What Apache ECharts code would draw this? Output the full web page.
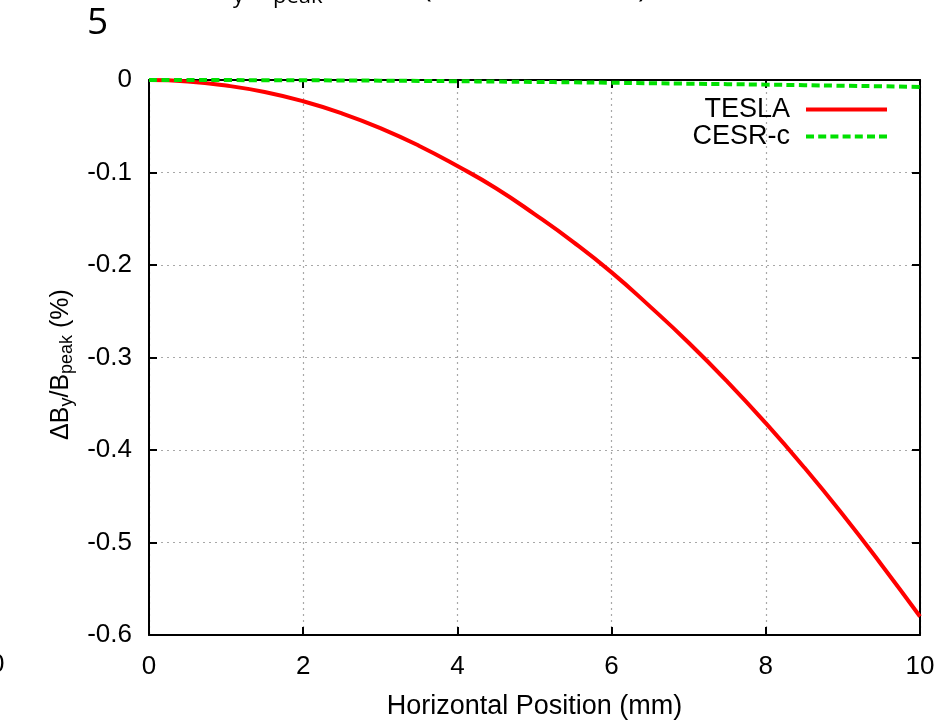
<!DOCTYPE html>
<html>
<head>
<meta charset="utf-8">
<script src="https://cdn.jsdelivr.net/npm/echarts@6/dist/echarts.min.js"></script>
<style>
html,body{margin:0;padding:0;background:#fff;}
#chart{width:948px;height:720px;}
</style>
</head>
<body>
<div id="chart"></div>
<script>
// Horizontal position (mm)
var xPositions = [0, 0.5, 1, 1.5, 2, 2.5, 3, 3.5, 4, 4.5, 5, 5.5, 6, 6.5, 7, 7.5, 8, 8.5, 9, 9.5, 10];
// Delta By / B_peak (%)
var teslaValues = [0, -0.0015, -0.006, -0.013, -0.023, -0.036, -0.052, -0.071, -0.093, -0.117, -0.145, -0.175, -0.208, -0.245, -0.284, -0.326, -0.371, -0.419, -0.470, -0.524, -0.580];
var cesrValues  = [0, 0, -0.0001, -0.0002, -0.0003, -0.0005, -0.0007, -0.001, -0.0013, -0.0017, -0.0021, -0.0025, -0.003, -0.0035, -0.004, -0.0045, -0.005, -0.0056, -0.0062, -0.0068, -0.0075];
var seriesNames = ['TESLA', 'CESR-c'];
var xTicks = [0, 2, 4, 6, 8, 10];
var yTicks = [0, -0.1, -0.2, -0.3, -0.4, -0.5, -0.6];

function pairs(xs, ys) { return xs.map(function (x, i) { return [x, ys[i]]; }); }

var FONT = 'Liberation Sans, Arial, sans-serif';
var chart = echarts.init(document.getElementById('chart'), null, {renderer: 'canvas'});

var tickStyle = {show: true, inside: true, length: 8, lineStyle: {color: '#000', width: 2}};
var lineStyleAxis = {show: true, onZero: false, lineStyle: {color: '#000', width: 2}};

// legend sample shapes: a solid bar and a row of 7 dashes
var solidIcon = 'path://M0,0H81V4H0Z';
var dashIcon = 'path://M0,0H8V4H0Z M12.2,0H20.2V4H12.2Z M24.4,0H32.4V4H24.4Z M36.6,0H44.6V4H36.6Z M48.8,0H56.8V4H48.8Z M61,0H69V4H61Z M73,0H81V4H73Z';

var option = {
  backgroundColor: '#fff',
  animation: false,
  grid: {left: 149, top: 80, right: 28, bottom: 85, containLabel: false, outerBoundsMode: 'none'},
  legend: {
    data: [
      {name: seriesNames[0], icon: solidIcon, itemStyle: {color: '#ff0000'}},
      {name: seriesNames[1], icon: dashIcon, itemStyle: {color: '#00e000'}}
    ],
    orient: 'vertical',
    right: 56,
    top: 91,
    align: 'right',
    itemWidth: 81,
    itemHeight: 4,
    itemGap: 0,
    symbolKeepAspect: false,
    textStyle: {fontFamily: FONT, fontSize: 27, lineHeight: 26, color: '#000', padding: [0, 11, 0, 0]}
  },
  xAxis: [
    {
      type: 'value', min: xTicks[0], max: xTicks[xTicks.length - 1], interval: 2, position: 'bottom',
      name: 'Horizontal Position (mm)', nameLocation: 'middle', nameGap: 58,
      nameTextStyle: {fontFamily: FONT, fontSize: 27, color: '#000'},
      axisLine: lineStyleAxis, axisTick: tickStyle,
      axisLabel: {fontFamily: FONT, fontSize: 26, color: '#000', margin: 19},
      splitLine: {show: true, lineStyle: {color: '#a8a8a8', type: [2, 4], width: 1.2}}
    },
    {
      type: 'value', min: xTicks[0], max: xTicks[xTicks.length - 1], interval: 2, position: 'top',
      axisLine: lineStyleAxis, axisTick: tickStyle, axisLabel: {show: false}, splitLine: {show: false}
    }
  ],
  yAxis: [
    {
      type: 'value', min: yTicks[yTicks.length - 1], max: yTicks[0], interval: 0.1, position: 'left',
      name: '{n|ΔB}{s|y}{n|/B}{s|peak}{n| (%)}', nameLocation: 'middle', nameGap: 68, nameRotate: 90,
      nameTextStyle: {
        fontFamily: FONT, color: '#000', padding: [0, 14, 0, 0],
        rich: {
          n: {fontFamily: FONT, fontSize: 25, color: '#000'},
          s: {fontFamily: FONT, fontSize: 18, color: '#000', verticalAlign: 'bottom', padding: [12, 0, 0, 0]}
        }
      },
      axisLine: lineStyleAxis, axisTick: tickStyle,
      axisLabel: {
        fontFamily: FONT, fontSize: 26, color: '#000', margin: 17,
        formatter: function (v) { return Math.abs(v) < 1e-9 ? '0' : v.toFixed(1); }
      },
      splitLine: {show: true, lineStyle: {color: '#a8a8a8', type: [2, 4], width: 1.2}}
    },
    {
      type: 'value', min: yTicks[yTicks.length - 1], max: yTicks[0], interval: 0.1, position: 'right',
      axisLine: lineStyleAxis, axisTick: tickStyle, axisLabel: {show: false}, splitLine: {show: false}
    }
  ],
  series: [
    {
      name: seriesNames[0], type: 'line', xAxisIndex: 0, yAxisIndex: 0,
      data: pairs(xPositions, teslaValues), smooth: true, showSymbol: false, symbol: 'none',
      lineStyle: {color: '#ff0000', width: 4}, itemStyle: {color: '#ff0000'}, z: 5
    },
    {
      name: seriesNames[1], type: 'line', xAxisIndex: 0, yAxisIndex: 0,
      data: pairs(xPositions, cesrValues), smooth: true, showSymbol: false, symbol: 'none',
      lineStyle: {color: '#00e000', width: 4, type: [8, 4.5]}, itemStyle: {color: '#00e000'}, z: 6
    }
  ],
  graphic: [
    {type: 'text', left: 87, top: 5, style: {text: '5', font: '37px "Open Sans", sans-serif', fill: '#000'}},
    {type: 'text', x: 233, y: -3, style: {text: 'y', font: '22px "Open Sans", sans-serif', fill: '#000', verticalAlign: 'middle'}},
    {type: 'text', x: 245, y: -12, style: {text: '/', font: '30px "Open Sans", sans-serif', fill: '#000', verticalAlign: 'middle'}},
    {type: 'text', x: 273, y: -3, style: {text: 'peak', font: '22px "Open Sans", sans-serif', fill: '#000', verticalAlign: 'middle'}},
    {type: 'text', x: 423, y: -12, style: {text: '(', font: '30px "Open Sans", sans-serif', fill: '#000', verticalAlign: 'middle'}},
    {type: 'text', x: 638, y: -12, style: {text: ')', font: '30px "Open Sans", sans-serif', fill: '#000', verticalAlign: 'middle'}},
    {type: 'text', x: -10, y: 665, style: {text: '0', font: '26px "Liberation Sans", sans-serif', fill: '#000', verticalAlign: 'middle'}}
  ]
};
chart.setOption(option);
</script>
</body>
</html>
